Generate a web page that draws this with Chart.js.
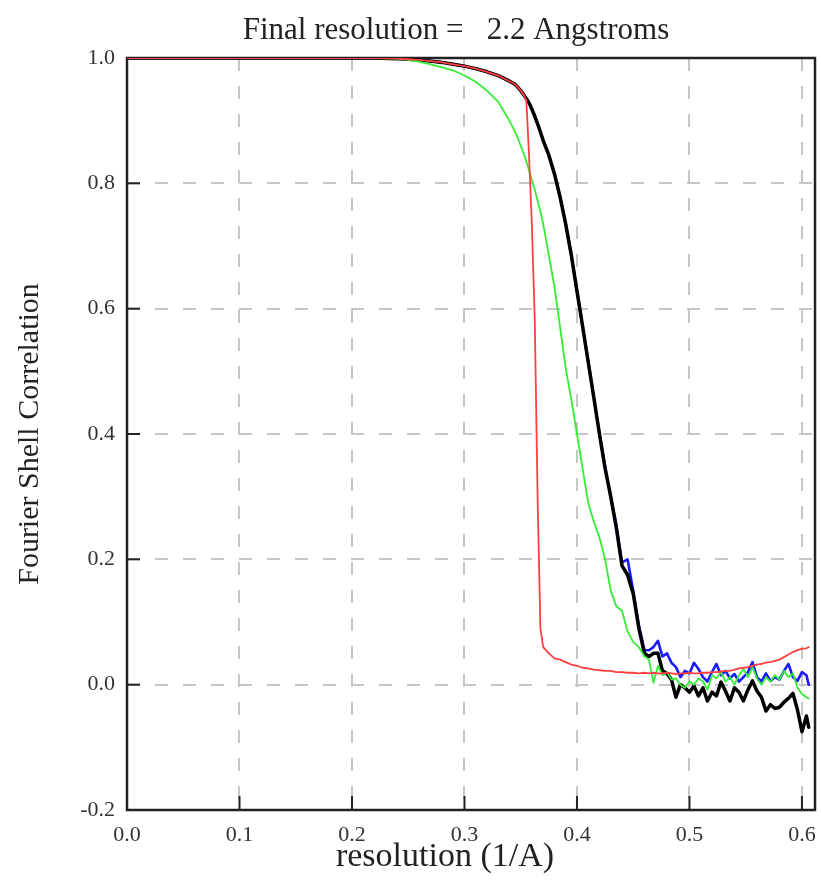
<!DOCTYPE html>
<html lang="en">
<head>
  <meta charset="UTF-8" />
  <title>Fourier Shell Correlation</title>
  <script src="https://cdn.jsdelivr.net/npm/chart.js"></script>
  <style>
    body { margin: 0; background: #fff; }
    #wrap { width: 821px; height: 880px; }
  </style>
</head>
<body>
  <div id="wrap"><canvas id="fsc" width="821" height="880"></canvas></div>
  <script>
    // resolution (1/A) sample positions
    const resX = [
      0, 0.02, 0.04, 0.06, 0.08, 0.1, 0.12, 0.14, 0.16, 0.18, 0.2, 0.22, 0.24,
      0.25, 0.26, 0.27, 0.28, 0.29, 0.3, 0.31, 0.32, 0.33, 0.34,
      0.345, 0.3475, 0.35, 0.3525, 0.355, 0.3575, 0.36, 0.3625, 0.365, 0.3675, 0.37,
      0.375, 0.38, 0.385, 0.39, 0.395, 0.4, 0.405, 0.41, 0.415, 0.42, 0.425, 0.43, 0.435, 0.44, 0.445, 0.45, 0.455, 0.46,
      0.464, 0.468, 0.472, 0.476, 0.48, 0.484, 0.488, 0.492, 0.496, 0.5, 0.504, 0.508, 0.512, 0.516, 0.52, 0.524,
      0.528, 0.532, 0.536, 0.54, 0.544, 0.548, 0.552, 0.556, 0.56, 0.564, 0.568, 0.572, 0.576, 0.58, 0.584, 0.588,
      0.592, 0.596, 0.6, 0.604, 0.606
    ];

    const fscBlack = [
      1, 1, 1, 1, 1, 1, 1, 1, 1, 1, 1, 1, 0.999,
      0.998, 0.997, 0.995, 0.993, 0.99, 0.987, 0.983, 0.978, 0.972, 0.963,
      0.958, 0.953, 0.948, 0.942, 0.935, 0.928, 0.918, 0.907, 0.895, 0.882, 0.868,
      0.845, 0.815, 0.778, 0.735, 0.685, 0.628, 0.572, 0.515, 0.458, 0.40, 0.345, 0.30, 0.25, 0.19, 0.175, 0.145, 0.09, 0.05,
      0.045, 0.05, 0.05, 0.022, 0.018, 0.008, -0.02, 0.0, -0.005, -0.012, -0.002, -0.018, -0.005, -0.026, -0.012, -0.018,
      0.004, -0.01, -0.026, -0.005, -0.012, -0.026, -0.008, 0.006, -0.01, -0.02, -0.042, -0.032, -0.038, -0.036, -0.028, -0.022,
      -0.014, -0.04, -0.075, -0.05, -0.068
    ];

    const fscBlue = [
      1, 1, 1, 1, 1, 1, 1, 1, 1, 1, 1, 1, 0.999,
      0.998, 0.997, 0.995, 0.993, 0.99, 0.987, 0.983, 0.978, 0.972, 0.963,
      0.958, 0.953, 0.948, 0.942, 0.935, 0.928, 0.918, 0.907, 0.895, 0.882, 0.868,
      0.845, 0.815, 0.778, 0.735, 0.685, 0.628, 0.572, 0.515, 0.458, 0.40, 0.348, 0.30, 0.255, 0.195, 0.2, 0.15, 0.095, 0.055,
      0.055, 0.06, 0.07, 0.045, 0.05, 0.035, 0.028, 0.012, 0.022, 0.018, 0.035, 0.025, 0.012, 0.005, 0.02, 0.033,
      0.015, 0.022, 0.01, 0.017, 0.005, 0.012, 0.02, 0.036, 0.012, 0.005, 0.018, 0.006, 0.012, 0.008, 0.022, 0.033,
      0.012, 0.006, 0.02, 0.015, 0.0
    ];

    const fscGreen = [
      1, 1, 1, 1, 1, 1, 1, 1, 1, 1, 1, 1, 0.999,
      0.997, 0.994, 0.99, 0.985, 0.98, 0.972, 0.962, 0.948, 0.93, 0.90,
      0.882, 0.872, 0.86, 0.848, 0.835, 0.82, 0.805, 0.79, 0.772, 0.755, 0.735,
      0.685, 0.635, 0.57, 0.505, 0.455, 0.40, 0.345, 0.29, 0.26, 0.235, 0.20, 0.15, 0.125, 0.118, 0.085, 0.068, 0.06, 0.045,
      0.04, 0.003, 0.03, 0.015, 0.02, 0.008, 0.01, 0.0, -0.005, 0.005, 0.0, 0.01, 0.005, -0.008, 0.015, 0.01,
      0.02, 0.005, 0.012, 0.0, 0.015, 0.025, 0.012, 0.028, 0.01, 0.0, 0.012, 0.005, 0.015, 0.008, 0.022, 0.012,
      0.018, -0.005, -0.015, -0.02, -0.022
    ];

    const fscRed = [
      1, 1, 1, 1, 1, 1, 1, 1, 1, 1, 1, 1, 0.999,
      0.998, 0.997, 0.995, 0.993, 0.99, 0.987, 0.983, 0.978, 0.972, 0.963,
      0.958, 0.953, 0.948, 0.942, 0.932, 0.84, 0.73, 0.58, 0.30, 0.09, 0.06,
      0.05, 0.042, 0.04, 0.036, 0.032, 0.03, 0.027, 0.026, 0.024, 0.023, 0.022, 0.022, 0.02, 0.02, 0.019, 0.019, 0.018, 0.019,
      0.018, 0.019, 0.018, 0.018, 0.019, 0.018, 0.017, 0.018, 0.018, 0.019, 0.018, 0.018, 0.019, 0.019, 0.02, 0.02,
      0.021, 0.022, 0.022, 0.024, 0.026, 0.027, 0.028, 0.03, 0.032, 0.033, 0.035, 0.036, 0.038, 0.04, 0.044, 0.048,
      0.052, 0.055, 0.057, 0.058, 0.06
    ];

    const xTickValues = [0.1, 0.2, 0.3, 0.4, 0.5, 0.6];
    const yTickValues = [0.0, 0.2, 0.4, 0.6, 0.8];

    const chartTitle = 'Final resolution =   2.2 Angstroms';
    const xTitle = 'resolution (1/A)';
    const yTitle = 'Fourier Shell Correlation';

    const pts = ys => resX.map((x, i) => ({ x, y: ys[i] }));
    const fmt = v => (Math.abs(v) < 1e-9 ? 0 : v).toFixed(1);

    const serif = '"Liberation Serif", "Times New Roman", serif';

    // box frame + inward tick marks, under the curves
    const framePlugin = {
      id: 'frame',
      beforeDatasetsDraw(chart) {
        const { ctx, chartArea: a, scales } = chart;
        ctx.save();
        ctx.strokeStyle = '#222';
        ctx.lineWidth = 2;
        xTickValues.forEach(v => {
          const px = scales.x.getPixelForValue(v);
          ctx.beginPath();
          ctx.moveTo(px, a.bottom);
          ctx.lineTo(px, a.bottom - 14);
          ctx.stroke();
        });
        yTickValues.forEach(v => {
          const py = scales.y.getPixelForValue(v);
          ctx.beginPath();
          ctx.moveTo(a.left, py);
          ctx.lineTo(a.left + 13, py);
          ctx.stroke();
        });
        ctx.lineWidth = 2.5;
        ctx.strokeRect(a.left, a.top, a.right - a.left, a.bottom - a.top);
        ctx.restore();
      }
    };

    const textPlugin = {
      id: 'texts',
      afterDraw(chart) {
        const { ctx, chartArea: a } = chart;
        ctx.save();
        ctx.fillStyle = '#222';
        ctx.textAlign = 'center';
        ctx.textBaseline = 'alphabetic';
        ctx.font = '31px ' + serif;
        ctx.fillText(chartTitle, 456, 39);
        ctx.font = '34px ' + serif;
        ctx.fillText(xTitle, 445, 866);
        ctx.translate(30, (a.top + a.bottom) / 2);
        ctx.rotate(-Math.PI / 2);
        ctx.textBaseline = 'middle';
        ctx.font = '30px ' + serif;
        ctx.fillText(yTitle, 0, 0);
        ctx.restore();
      }
    };

    new Chart(document.getElementById('fsc').getContext('2d'), {
      type: 'line',
      data: {
        datasets: [
          { label: 'red', data: pts(fscRed), borderColor: '#ff4040', borderWidth: 1.8 },
          { label: 'green', data: pts(fscGreen), borderColor: '#33ee33', borderWidth: 1.8 },
          { label: 'black', data: pts(fscBlack), borderColor: '#000000', borderWidth: 3.5 },
          { label: 'blue', data: pts(fscBlue), borderColor: '#1a1aff', borderWidth: 2.6 }
        ]
      },
      options: {
        responsive: false,
        animation: false,
        elements: {
          point: { radius: 0 },
          line: { tension: 0, borderJoinStyle: 'round', borderCapStyle: 'round', fill: false }
        },
        layout: { padding: { top: 58, right: 6, left: 0, bottom: 0 } },
        plugins: { legend: { display: false }, tooltip: { enabled: false }, title: { display: false } },
        scales: {
          x: {
            type: 'linear',
            min: 0,
            max: 0.6116,
            afterFit: s => { s.height = 70; s.paddingLeft = 0; s.paddingRight = 0; },
            border: { display: false, dash: [13, 15] },
            grid: { color: '#c6c6c6', lineWidth: 2, drawTicks: false },
            ticks: {
              stepSize: 0.1,
              includeBounds: false,
              padding: 12,
              color: '#333',
              font: { family: serif, size: 22 },
              callback: fmt
            }
          },
          y: {
            type: 'linear',
            min: -0.2,
            max: 1.0,
            afterFit: s => { s.width = 127; s.paddingTop = 0; s.paddingBottom = 0; },
            border: { display: false, dash: [13, 15] },
            grid: { color: '#c6c6c6', lineWidth: 2, drawTicks: false },
            ticks: {
              stepSize: 0.2,
              padding: 12,
              color: '#333',
              font: { family: serif, size: 22 },
              callback: fmt
            }
          }
        }
      },
      plugins: [framePlugin, textPlugin]
    });
  </script>
</body>
</html>
